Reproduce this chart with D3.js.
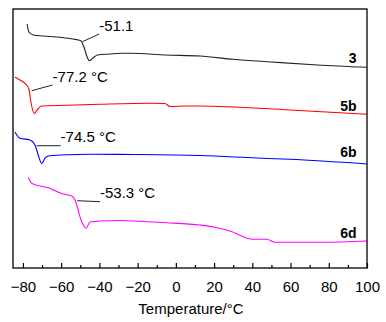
<!DOCTYPE html>
<html>
<head>
<meta charset="utf-8">
<script src="https://cdn.jsdelivr.net/npm/d3@7"></script>
<style>
  html, body { margin: 0; padding: 0; background: #fff; }
  svg text { font-family: "Liberation Sans", Arial, sans-serif; fill: #000; }
</style>
</head>
<body>
<div id="chart"></div>
<script>
// DSC traces: [temperature °C, heat flow (a.u., offset per sample)]
const curve3 = [[-77.8,244],[-76.9,236],[-74.6,233],[-69.4,232],[-60.6,230.7],[-53.7,229],[-49.7,227.3],
  [-48.1,221],[-46.4,211],[-45.3,207.3],[-43.5,209.7],[-41.1,213],[-34.5,214],[-29,214.7],[-24,214.7],
  [-5,213],[12.6,212],[30,208.7],[50,206],[74,203],[100,200.7]];
const curve5b = [[-84.2,191],[-81.6,188],[-79,184.7],[-76.9,179],[-76,168],[-74.1,154.3],[-72.8,157.5],
  [-70.2,162],[-57.1,162.7],[-39.7,163.7],[-13.5,164.7],[-5.7,164.5],[-3.1,161.5],[5.7,162],[12.6,162],
  [59.7,158],[100,153.7]];
const curve6b = [[-84.2,136],[-81.6,129.7],[-76.3,128],[-73.7,123],[-72,113],[-70.2,104.5],[-68.5,109.7],
  [-66.8,112],[-60.6,113],[-43.4,113.7],[-22.4,113.5],[12.6,112.5],[42.4,110],[59.7,108.7],[100,104]];
const curve6d = [[-77.2,90.5],[-75.4,84.7],[-71.1,82],[-65.9,79.7],[-64.1,78],[-58.9,74],[-54.5,72],
  [-52.8,68],[-51.1,58],[-50.2,51.3],[-48.4,43],[-47,39.7],[-44.9,46],[-39.7,47],[-29.2,47.5],[-15.1,46.3],
  [-4.6,45.3],[12.6,43],[19.9,41],[28.3,37],[40.3,28.7],[47.5,28.7],[51.9,25.7],[77,25.7],[100,27]];

const seriesNames = ['3', '5b', '6b', '6d'];
const seriesColors = ['#222222', '#ff0000', '#0000ff', '#ff00ff'];
const seriesData = [curve3, curve5b, curve6b, curve6d];
const nameLabelY = [205, 157, 111, 30];

// annotations: leader line from/to and text
const annotTexts = ['-51.1', '-77.2 °C', '-74.5 °C', '-53.3 °C'];
const annotLines = [
  [[-48.8,226.3],[-40.1,234]],
  [[-75.4,177.3],[-64.5,183]],
  [[-72.8,122.3],[-60.3,122.3]],
  [[-51.6,67.3],[-39.7,66.3]]
];
const annotTextPos = [[-40.1,237],[-64.5,186],[-60.3,126],[-39.7,69.7]];

const xTicks = [-80, -60, -40, -20, 0, 20, 40, 60, 80, 100];
const xMinorTicks = d3.range(-70, 100, 20);
const xTitle = 'Temperature/°C';

const width = 386, height = 322;
const margin = { top: 9, right: 19, bottom: 54, left: 13 };

const svg = d3.select('#chart').append('svg')
  .attr('width', width)
  .attr('height', height);

const x = d3.scaleLinear().domain([-85.2, 100]).range([margin.left, width - margin.right]);
const y = d3.scaleLinear().domain([0, 259]).range([height - margin.bottom, margin.top]);

const line = d3.line()
  .x(d => x(d[0]))
  .y(d => y(d[1]))
  .curve(d3.curveMonotoneX);

// curves
seriesData.forEach((s, i) => {
  svg.append('path')
    .datum(s)
    .attr('d', line)
    .attr('fill', 'none')
    .attr('stroke', seriesColors[i])
    .attr('stroke-width', 1.1);
});

// series names on the right
seriesNames.forEach((n, i) => {
  svg.append('text')
    .attr('x', x(94.5))
    .attr('y', y(nameLabelY[i]))
    .attr('text-anchor', 'end')
    .style('font-size', '14px')
    .style('font-weight', 'bold')
    .text(n);
});

// annotations
annotLines.forEach((l, i) => {
  svg.append('line')
    .attr('x1', x(l[0][0])).attr('y1', y(l[0][1]))
    .attr('x2', x(l[1][0])).attr('y2', y(l[1][1]))
    .attr('stroke', '#222')
    .attr('stroke-width', 1);
  svg.append('text')
    .attr('x', x(annotTextPos[i][0]))
    .attr('y', y(annotTextPos[i][1]))
    .style('font-size', '15px')
    .text(annotTexts[i]);
});

// frame
svg.append('rect')
  .attr('x', margin.left)
  .attr('y', margin.top)
  .attr('width', width - margin.left - margin.right)
  .attr('height', height - margin.top - margin.bottom)
  .attr('fill', 'none')
  .attr('stroke', '#000')
  .attr('stroke-width', 1.3);

// bottom axis, ticks pointing inward
const axisY = height - margin.bottom;
const xAxis = svg.append('g')
  .attr('transform', `translate(0,${axisY})`)
  .call(d3.axisBottom(x).tickValues(xTicks).tickSizeInner(-5).tickSizeOuter(0).tickPadding(13));
xAxis.select('.domain').remove();
xAxis.selectAll('.tick line').attr('stroke', '#000').attr('stroke-width', 1.2);
xAxis.selectAll('.tick text')
  .style('font-family', '"Liberation Sans", Arial, sans-serif')
  .style('font-size', '15px')
  .attr('fill', '#000');

const xMinor = svg.append('g')
  .attr('transform', `translate(0,${axisY})`)
  .call(d3.axisBottom(x).tickValues(xMinorTicks).tickSize(-3).tickFormat(''));
xMinor.select('.domain').remove();
xMinor.selectAll('.tick line').attr('stroke', '#000').attr('stroke-width', 1.2);

svg.append('text')
  .attr('x', (x(-80) + x(100)) / 2 - 4)
  .attr('y', 314)
  .attr('text-anchor', 'middle')
  .style('font-size', '15px')
  .text(xTitle);
</script>
</body>
</html>
